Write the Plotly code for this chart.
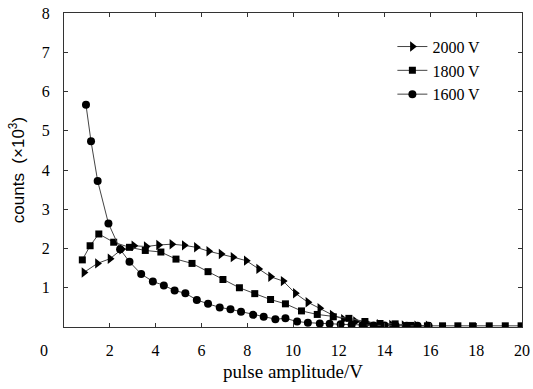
import plotly.graph_objects as go

# 2000 V (triangles)
x_2000 = [0.87, 1.46, 2.01, 2.52, 3.05, 3.59, 4.13, 4.71, 5.25, 5.78, 6.32, 6.86, 7.38, 7.96, 8.5, 9.02,
          9.57, 10.1, 10.65, 11.17, 11.71, 12.2, 12.73, 13.25, 13.76, 14.3, 14.85, 15.4, 15.9]
y_2000 = [1.39, 1.62, 1.74, 1.98, 2.07, 2.05, 2.09, 2.11, 2.08, 2.03, 1.93, 1.86, 1.78, 1.69, 1.48, 1.28,
          1.17, 0.86, 0.63, 0.48, 0.31, 0.2, 0.14, 0.09, 0.07, 0.05, 0.04, 0.03, 0.03]

# 1800 V (squares)
x_1800 = [0.80, 1.14, 1.52, 2.17, 2.86, 3.55, 4.23, 4.89, 5.59, 6.29, 6.94, 7.66, 8.33, 9.02, 9.67, 10.37,
          11.06, 11.76, 12.44, 13.14, 13.8, 14.46, 15.14, 15.87, 16.53, 17.2, 17.84, 18.57, 19.27, 19.96]
y_1800 = [1.71, 2.07, 2.37, 2.16, 2.03, 1.95, 1.91, 1.73, 1.62, 1.41, 1.21, 1.00, 0.85, 0.70, 0.59, 0.41,
          0.32, 0.26, 0.22, 0.14, 0.09, 0.08, 0.04, 0.03, 0.03, 0.03, 0.03, 0.03, 0.03, 0.03]

# 1600 V (circles)
x_1600 = [0.96, 1.18, 1.47, 1.94, 2.45, 2.86, 3.37, 3.88, 4.36, 4.83, 5.3, 5.8, 6.29, 6.8, 7.27, 7.73,
          8.26, 8.72, 9.23, 9.67, 10.18, 10.65, 11.17, 11.6, 12.08, 12.56, 13.04, 13.52, 14.0, 14.48,
          14.96, 15.44, 15.92]
y_1600 = [5.66, 4.73, 3.72, 2.64, 1.98, 1.66, 1.35, 1.16, 1.06, 0.93, 0.86, 0.69, 0.59, 0.50, 0.45, 0.39,
          0.31, 0.26, 0.20, 0.22, 0.14, 0.11, 0.09, 0.08, 0.07, 0.06, 0.05, 0.04, 0.04, 0.03,
          0.03, 0.03, 0.03]

x_ticks = [2, 4, 6, 8, 10, 12, 14, 16, 18, 20]
y_ticks = [1, 2, 3, 4, 5, 6, 7, 8]

serif = "Liberation Serif"
line_col = "#444444"

fig = go.Figure()
series = [
    ("2000 V", x_2000, y_2000, "triangle-right", 9),
    ("1800 V", x_1800, y_1800, "square", 7),
    ("1600 V", x_1600, y_1600, "circle", 8),
]
for name, xs, ys, sym, sz in series:
    fig.add_trace(go.Scatter(
        x=xs, y=ys, name=name, mode="lines+markers",
        line=dict(color=line_col, width=1),
        marker=dict(symbol=sym, size=sz, color="black", line=dict(width=0)),
    ))

axis_common = dict(
    showline=True, linecolor="#333333", linewidth=1, mirror="ticks",
    ticks="inside", ticklen=4, tickcolor="#333333",
    showgrid=False, zeroline=False, automargin=False,
    ticklabeloverflow="allow",
    tickfont=dict(family=serif, size=16, color="black"),
)

fig.update_layout(
    width=533, height=389,
    margin=dict(l=64, r=11, t=13, b=62),
    plot_bgcolor="white", paper_bgcolor="white",
    showlegend=True,
    legend=dict(x=0.717, y=0.947, xanchor="left", yanchor="top",
                font=dict(family=serif, size=16, color="black"),
                bgcolor="rgba(0,0,0,0)", tracegroupgap=0, itemwidth=30),
    xaxis=dict(range=[0, 20], tickvals=x_ticks, ticktext=[str(v) for v in x_ticks],
               ticklabelstandoff=9,
               title=dict(text="pulse amplitude/V", font=dict(family=serif, size=19, color="black"),
                          standoff=6),
               **axis_common),
    yaxis=dict(range=[0, 8], tickvals=y_ticks, ticktext=[str(v) for v in y_ticks],
               ticklabelstandoff=10,
               title=dict(text="counts  (×10<sup>3</sup>)",
                          font=dict(family="Liberation Sans", size=17, color="black"),
                          standoff=12),
               **axis_common),
)

fig.add_annotation(x=0, y=0, xref="x", yref="y", text="0", showarrow=False,
                   xshift=-20, yshift=-23,
                   font=dict(family=serif, size=16, color="black"))

fig.write_html("out.html", config={"displayModeBar": False},
               post_script="document.body.style.margin='0px';document.body.style.overflow='hidden';")
